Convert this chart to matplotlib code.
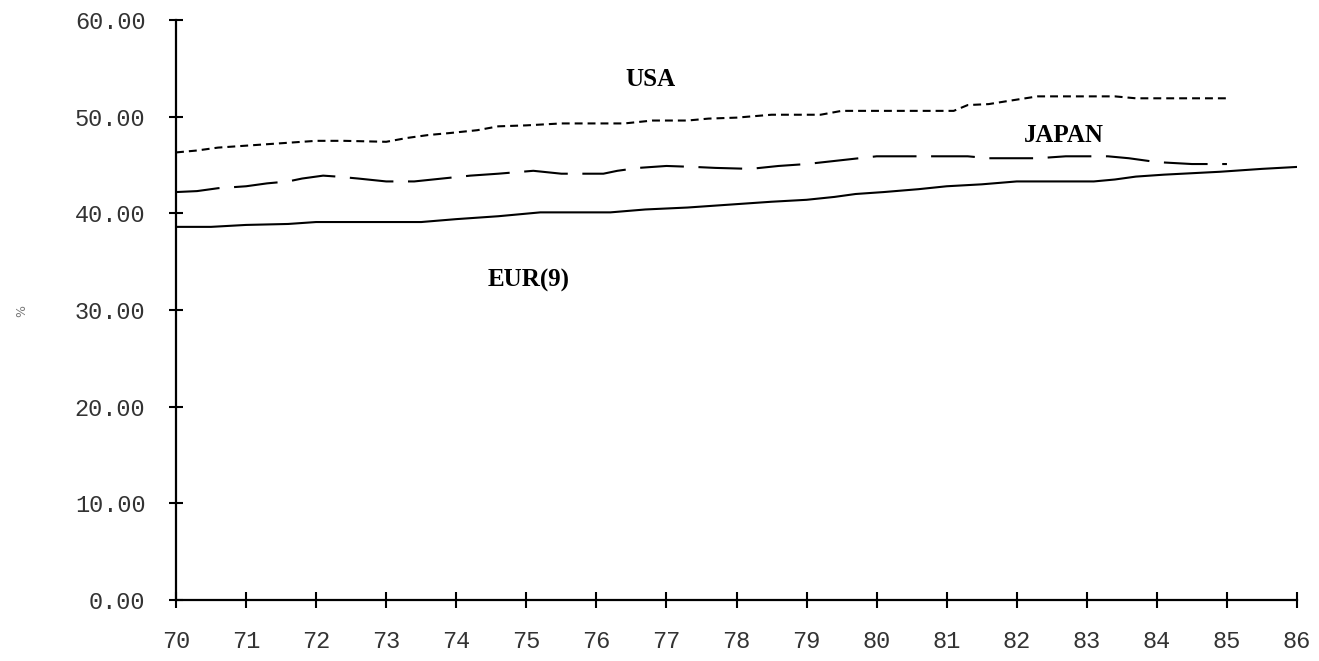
import matplotlib
matplotlib.use("Agg")
import matplotlib.pyplot as plt

# ---- data ----
eur_years = [70.0, 70.5, 71.0, 71.6, 72.0, 73.5, 74.0, 74.6, 75.2, 76.2, 76.7, 77.3, 77.9,
             78.5, 79.0, 79.4, 79.7, 80.1, 80.6, 81.0, 81.5, 82.0, 83.1, 83.4, 83.7, 84.1,
             84.9, 85.5, 86.0]
eur_vals = [38.6, 38.6, 38.8, 38.9, 39.1, 39.1, 39.4, 39.7, 40.1, 40.1, 40.4, 40.6, 40.9,
            41.2, 41.4, 41.7, 42.0, 42.2, 42.5, 42.8, 43.0, 43.3, 43.3, 43.5, 43.8, 44.0,
            44.3, 44.6, 44.8]

japan_years = [70.0, 70.3, 70.6, 71.0, 71.3, 71.6, 71.8, 72.1, 72.3, 72.6, 73.0, 73.4, 73.8,
               74.2, 74.6, 75.1, 75.5, 76.1, 76.3, 76.6, 77.0, 77.4, 77.7, 78.2, 78.6, 79.0,
               79.5, 80.0, 81.3, 81.6, 82.3, 82.7, 83.3, 83.6, 84.0, 84.5, 85.0]
japan_vals = [42.2, 42.3, 42.6, 42.8, 43.1, 43.3, 43.6, 43.9, 43.8, 43.6, 43.3, 43.3, 43.6,
              43.9, 44.1, 44.4, 44.1, 44.1, 44.4, 44.7, 44.9, 44.8, 44.7, 44.6, 44.9, 45.1,
              45.5, 45.9, 45.9, 45.7, 45.7, 45.9, 45.9, 45.7, 45.3, 45.1, 45.1]

usa_years = [70.0, 70.3, 70.6, 71.0, 71.4, 72.0, 72.4, 73.0, 73.3, 73.6, 73.9, 74.3, 74.6,
             75.0, 75.5, 76.4, 76.8, 77.3, 77.6, 78.0, 78.5, 79.2, 79.5, 81.1, 81.3, 81.6,
             81.9, 82.3, 83.4, 83.7, 85.0]
usa_vals = [46.3, 46.5, 46.8, 47.0, 47.2, 47.5, 47.5, 47.4, 47.8, 48.1, 48.3, 48.6, 49.0,
            49.1, 49.3, 49.3, 49.6, 49.6, 49.8, 49.9, 50.2, 50.2, 50.6, 50.6, 51.2, 51.3,
            51.65, 52.1, 52.1, 51.9, 51.9]

x_ticks = list(range(70, 87))
y_ticks = [0, 10, 20, 30, 40, 50, 60]

W, H = 1319, 661
fig = plt.figure(figsize=(W / 100, H / 100), dpi=100)
ax = fig.add_axes([176 / W, 1 - 600 / H, (1297 - 176) / W, (600 - 20) / H])

lw = 1.5
ax.plot(usa_years, usa_vals, color="black", lw=lw, linestyle=(0, (3.8, 2.4)))
ax.plot(japan_years, japan_vals, color="black", lw=lw, linestyle=(0, (21, 7)))
ax.plot(eur_years, eur_vals, color="black", lw=lw, linestyle="-")

ax.set_xlim(70, 86)
ax.set_ylim(0, 60)
ax.set_xticks(x_ticks)
ax.set_xticklabels([str(t) for t in x_ticks])
ax.set_yticks(y_ticks)
ax.set_yticklabels(["%.2f" % t for t in y_ticks])

for s in ["top", "right"]:
    ax.spines[s].set_visible(False)
for s in ["left", "bottom"]:
    ax.spines[s].set_linewidth(1.6)
    ax.spines[s].set_color("black")

mono = "Liberation Mono"
ax.tick_params(axis="y", direction="inout", length=10, width=1.5, pad=17,
               labelsize=17, labelcolor="#333333")
ax.tick_params(axis="x", direction="inout", length=11, width=1.5, pad=16,
               labelsize=17, labelcolor="#333333")
for lab in ax.get_xticklabels() + ax.get_yticklabels():
    lab.set_fontfamily(mono)

serif = "Liberation Serif"
ax.text(76.77, 53.8, "USA", fontsize=18, family=serif, weight="bold", ha="center", va="center")
ax.text(82.67, 48.1, "JAPAN", fontsize=18, family=serif, weight="bold", ha="center", va="center")
ax.text(75.03, 33.1, "EUR(9)", fontsize=18, family=serif, weight="bold", ha="center", va="center")

fig.text(22 / W, 1 - 311 / H, "%", rotation=90, fontsize=9, color="#777777",
         ha="center", va="center")

fig.savefig("out.png", dpi=100)
